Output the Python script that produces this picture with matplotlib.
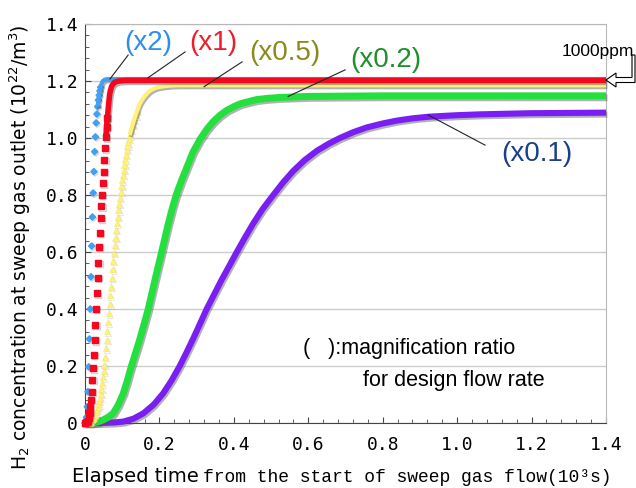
import matplotlib
matplotlib.use("Agg")
import matplotlib.pyplot as plt
import matplotlib.patheffects as pe
from matplotlib.patches import Polygon
from matplotlib.ticker import MultipleLocator, FuncFormatter

# ---- data (time in 10^3 s, concentration in 10^22 /m^3) ----
blue_t = [0.000, 0.002, 0.004, 0.006, 0.008, 0.010, 0.012, 0.014, 0.016, 0.018, 0.020,
          0.022, 0.024, 0.026, 0.028, 0.030, 0.032, 0.034, 0.036, 0.038, 0.040, 0.042,
          0.044, 0.046, 0.048, 0.052, 0.056, 0.070, 0.200, 1.400]
blue_y = [0.000, 0.005, 0.020, 0.057, 0.110, 0.197, 0.295, 0.400, 0.513, 0.621, 0.723,
          0.807, 0.882, 0.952, 1.004, 1.053, 1.084, 1.110, 1.133, 1.150, 1.165, 1.178,
          1.188, 1.195, 1.200, 1.204, 1.206, 1.207, 1.207, 1.207]

red_t = [0.000, 0.004, 0.006, 0.008, 0.010, 0.012, 0.014, 0.016, 0.018, 0.020, 0.022,
         0.024, 0.026, 0.028, 0.030, 0.032, 0.034, 0.036, 0.038, 0.040, 0.042, 0.044,
         0.046, 0.048, 0.050, 0.052, 0.054, 0.056, 0.058, 0.060, 0.062, 0.064, 0.066,
         0.068, 0.070, 0.072, 0.076, 0.080, 0.090, 0.110, 0.200, 1.400]
red_y = [0.000, 0.002, 0.004, 0.008, 0.016, 0.034, 0.057, 0.081, 0.110, 0.151, 0.192,
         0.239, 0.291, 0.344, 0.400, 0.455, 0.510, 0.562, 0.619, 0.668, 0.718, 0.761,
         0.800, 0.841, 0.882, 0.923, 0.964, 1.002, 1.040, 1.070, 1.098, 1.125, 1.151,
         1.165, 1.174, 1.183, 1.190, 1.196, 1.200, 1.202, 1.202, 1.202]

yellow_t = [0.000, 0.008, 0.012, 0.016, 0.020, 0.022, 0.024, 0.026, 0.028, 0.030, 0.032,
            0.034, 0.036, 0.038, 0.040, 0.042, 0.044, 0.046, 0.048, 0.050, 0.052, 0.054,
            0.056, 0.058, 0.060, 0.062, 0.064, 0.066, 0.068, 0.070, 0.072, 0.074, 0.076,
            0.078, 0.080, 0.082, 0.084, 0.086, 0.088, 0.090, 0.092, 0.094, 0.096, 0.098,
            0.100, 0.102, 0.104, 0.106, 0.108, 0.110, 0.112, 0.114, 0.116, 0.118, 0.120,
            0.124, 0.128, 0.132, 0.136, 0.140, 0.144, 0.148, 0.152, 0.156, 0.160, 0.166,
            0.172, 0.180, 0.190, 0.200, 0.215, 0.230, 0.250, 0.400, 1.400]
yellow_y = [0.000, 0.000, 0.001, 0.004, 0.010, 0.014, 0.018, 0.024, 0.030, 0.038, 0.047,
            0.056, 0.066, 0.077, 0.088, 0.103, 0.120, 0.139, 0.160, 0.182, 0.205, 0.233,
            0.262, 0.292, 0.322, 0.353, 0.385, 0.417, 0.448, 0.479, 0.510, 0.540, 0.570,
            0.598, 0.625, 0.651, 0.677, 0.701, 0.724, 0.747, 0.770, 0.791, 0.812, 0.832,
            0.852, 0.871, 0.889, 0.907, 0.925, 0.942, 0.958, 0.972, 0.985, 0.998, 1.010,
            1.030, 1.047, 1.065, 1.080, 1.095, 1.110, 1.122, 1.131, 1.139, 1.146, 1.155,
            1.163, 1.170, 1.176, 1.179, 1.182, 1.184, 1.185, 1.185, 1.185]

green_t = [0.000, 0.020, 0.035, 0.049, 0.062, 0.076, 0.090, 0.103, 0.114, 0.125, 0.137,
           0.148, 0.159, 0.170, 0.179, 0.188, 0.197, 0.206, 0.215, 0.224, 0.234, 0.245,
           0.260, 0.273, 0.290, 0.309, 0.327, 0.345, 0.363, 0.381, 0.400, 0.417, 0.440,
           0.462, 0.490, 0.520, 0.560, 0.600, 0.700, 0.800, 1.400]
green_y = [0.000, 0.000, 0.004, 0.011, 0.020, 0.034, 0.065, 0.104, 0.150, 0.201, 0.250,
           0.297, 0.348, 0.400, 0.451, 0.502, 0.551, 0.600, 0.650, 0.700, 0.750, 0.800,
           0.853, 0.895, 0.950, 0.995, 1.030, 1.058, 1.080, 1.097, 1.110, 1.120, 1.128,
           1.135, 1.139, 1.142, 1.144, 1.146, 1.147, 1.148, 1.148]

purple_t = [0.000, 0.040, 0.060, 0.080, 0.103, 0.130, 0.157, 0.185, 0.210, 0.233, 0.255,
            0.273, 0.291, 0.309, 0.327, 0.347, 0.367, 0.388, 0.408, 0.430, 0.452, 0.478,
            0.506, 0.533, 0.560, 0.590, 0.623, 0.655, 0.685, 0.720, 0.757, 0.800, 0.838,
            0.880, 0.927, 1.000, 1.062, 1.130, 1.200, 1.300, 1.400]
purple_y = [0.000, 0.000, 0.001, 0.002, 0.005, 0.015, 0.034, 0.065, 0.104, 0.150, 0.201,
            0.248, 0.297, 0.348, 0.400, 0.451, 0.502, 0.552, 0.600, 0.651, 0.700, 0.752,
            0.800, 0.845, 0.885, 0.922, 0.955, 0.980, 1.000, 1.020, 1.037, 1.051, 1.061,
            1.069, 1.075, 1.080, 1.083, 1.085, 1.087, 1.088, 1.089]

# number of leading points drawn as separate markers / index where the band starts
BLUE_DOTS, BLUE_BAND = 22, 17
RED_DOTS, RED_BAND = 30, 27
YEL_DOTS, YEL_BAND = 60, 54

# labels: text, colour, text pos, leader line (from, to)
labels = [
    ("(x2)", "#2b8ef0", (0.169, 1.333), (0.116, 1.291), (0.067, 1.207)),
    ("(x1)", "#ee1c2a", (0.344, 1.333), (0.269, 1.302), (0.169, 1.211)),
    ("(x0.5)", "#8a8a1c", (0.538, 1.298), (0.422, 1.267), (0.320, 1.180)),
    ("(x0.2)", "#1f8f2a", (0.809, 1.274), (0.699, 1.239), (0.546, 1.146)),
    ("(x0.1)", "#1b3f88", (1.215, 0.944), (1.075, 0.975), (0.922, 1.081)),
]

shadow = [pe.SimpleLineShadow(offset=(1.0, -1.4), shadow_color="#555555", alpha=0.45),
          pe.Normal()]
mshadow = [pe.SimpleLineShadow(offset=(0.8, -1.0), shadow_color="#777777", alpha=0.3),
           pe.Normal()]

fig = plt.figure(figsize=(6.36, 4.88), dpi=100)
ax = fig.add_axes([85 / 636, 65 / 488, 521 / 636, 399 / 488])

# purple and green: continuous thick curves
ax.plot(purple_t, purple_y, color="#7a1ff2", lw=4.4, solid_capstyle="butt",
        solid_joinstyle="round", path_effects=shadow, clip_on=False, zorder=3)
ax.plot(green_t, green_y, color="#24e03e", lw=5.0, solid_capstyle="butt",
        solid_joinstyle="round", path_effects=shadow, clip_on=False, zorder=4)

# yellow triangles
ax.plot(yellow_t[:YEL_DOTS], yellow_y[:YEL_DOTS], ls="none", marker="^", ms=4.4,
        mfc="#fff27c", mec="#f4e46a", mew=0.4, path_effects=mshadow, clip_on=False,
        zorder=5)
ax.plot(yellow_t[YEL_BAND:], yellow_y[YEL_BAND:], color="#fff27c", lw=3.0,
        solid_capstyle="butt", path_effects=shadow, clip_on=False, zorder=5)

# blue diamonds
ax.plot(blue_t[:BLUE_DOTS], blue_y[:BLUE_DOTS], ls="none", marker="D", ms=3.2,
        mfc="#41a0f2", mec="#41a0f2", path_effects=mshadow, clip_on=False, zorder=6)
ax.plot(blue_t[BLUE_BAND:], blue_y[BLUE_BAND:], color="#41a0f2", lw=3.0,
        solid_capstyle="butt", path_effects=shadow, clip_on=False, zorder=6)

# red squares
ax.plot(red_t[:RED_DOTS], red_y[:RED_DOTS], ls="none", marker="s", ms=4.4,
        mfc="#f5071f", mec="#f5071f", path_effects=mshadow, clip_on=False, zorder=7)
ax.plot(red_t[RED_BAND:], red_y[RED_BAND:], color="#f5071f", lw=4.0,
        solid_capstyle="butt", path_effects=shadow, clip_on=False, zorder=7)

for text, col, pos, p0, p1 in labels:
    ax.text(pos[0], pos[1], text, color=col, fontsize=20, family="Liberation Sans",
            ha="center", va="center", zorder=10)
    ax.plot([p0[0], p1[0]], [p0[1], p1[1]], color="#222222", lw=0.8, zorder=9)

ax.text(1.282, 1.302, "1000ppm", fontsize=12.5, family="Liberation Sans",
        ha="left", va="center", clip_on=False, zorder=10)

ax.text(0.585, 0.26, "(   ):magnification ratio", fontsize=15.5,
        family="Liberation Sans", ha="left", va="center")
ax.text(0.748, 0.15, "for design flow rate", fontsize=15.5,
        family="Liberation Sans", ha="left", va="center")

# axes styling
ax.set_xlim(0, 1.4)
ax.set_ylim(0, 1.4)
ax.xaxis.set_major_locator(MultipleLocator(0.2))
ax.yaxis.set_major_locator(MultipleLocator(0.2))
ax.xaxis.set_minor_locator(MultipleLocator(0.04))
ax.yaxis.set_minor_locator(MultipleLocator(0.04))
fmt = FuncFormatter(lambda v, p: "0" if abs(v) < 1e-9 else f"{v:.1f}")
ax.xaxis.set_major_formatter(fmt)
ax.yaxis.set_major_formatter(fmt)
ax.tick_params(which="both", direction="in", color="#444444", top=False, right=False)
ax.tick_params(which="major", length=4)
ax.tick_params(which="minor", length=3)
ax.tick_params(axis="x", pad=9)
ax.tick_params(axis="y", pad=5)
for lab in ax.get_xticklabels() + ax.get_yticklabels():
    lab.set_family("DejaVu Sans Mono")
    lab.set_fontsize(13)
ax.yaxis.grid(True, color="#cccccc", lw=1)
ax.set_axisbelow(True)
for s in ("left", "bottom"):
    ax.spines[s].set_color("#444444")
for s in ("top", "right"):
    ax.spines[s].set_color("#b8b8b8")

# axis titles (mixed fonts as in the original)
fig.text(20 / 636, 1 - 247 / 488,
         "H$_2$ concentration at sweep gas outlet (10$^{22}$/m$^3$)",
         rotation=90, ha="center", va="center", fontsize=13.5, family="DejaVu Sans")
fig.text(72 / 636, 1 - 477 / 488, "Elapsed time", ha="left", va="center",
         fontsize=14, family="DejaVu Sans")
fig.text(203 / 636, 1 - 477 / 488, "from the start of sweep gas flow(10\u00b3s)",
         ha="left", va="center", fontsize=13, family="Liberation Mono")

# hollow bent arrow marking the 1000 ppm level
arrow_px = [(606, 80), (616, 73), (616, 77.5), (632, 77.5), (632, 55), (635, 55),
            (635, 82.5), (616, 82.5), (616, 87)]
fig.patches.append(Polygon([(x / 636, 1 - y / 488) for x, y in arrow_px], closed=True,
                           fc="white", ec="black", lw=0.8, transform=fig.transFigure))

fig.savefig("out.png", dpi=100)
